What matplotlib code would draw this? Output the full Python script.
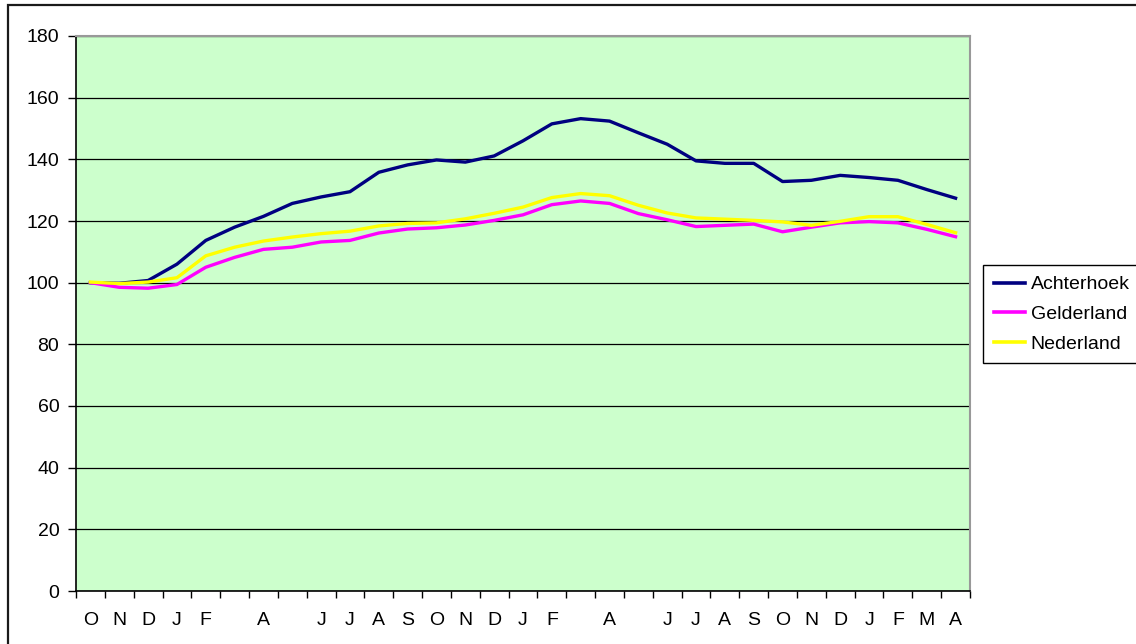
import matplotlib
matplotlib.use("Agg")
import matplotlib.pyplot as plt
from matplotlib.patches import Rectangle

months = ["O", "N", "D", "J", "F", "", "A", "", "J", "J", "A", "S", "O", "N", "D", "J",
          "F", "", "A", "", "J", "J", "A", "S", "O", "N", "D", "J", "F", "M", "A"]

achterhoek = [100.0, 99.8, 100.7, 106.0, 113.7, 118.0, 121.5, 125.7, 127.8, 129.5, 135.8,
              138.2, 139.8, 139.1, 141.1, 146.0, 151.5, 153.2, 152.4, 148.6, 144.9, 139.5,
              138.7, 138.7, 132.8, 133.2, 134.8, 134.1, 133.2, 130.2, 127.4]
gelderland = [100.0, 98.5, 98.2, 99.4, 105.0, 108.2, 110.8, 111.5, 113.2, 113.7, 116.1,
              117.4, 117.8, 118.7, 120.2, 122.0, 125.3, 126.5, 125.7, 122.4, 120.4, 118.2,
              118.6, 119.0, 116.5, 118.0, 119.4, 119.8, 119.4, 117.3, 114.9]
nederland = [100.2, 99.7, 100.2, 101.6, 108.7, 111.5, 113.5, 114.8, 115.9, 116.7, 118.4,
             119.2, 119.4, 120.7, 122.5, 124.5, 127.6, 128.9, 128.2, 125.1, 122.6, 121.0,
             120.6, 120.2, 119.7, 118.6, 119.9, 121.4, 121.4, 118.9, 116.2]
series_names = ["Achterhoek", "Gelderland", "Nederland"]
y_ticks = list(range(0, 181, 20))

W, H = 1136, 644
plt.rcParams['font.family'] = ['Liberation Sans', 'DejaVu Sans']
fig = plt.figure(figsize=(W / 100, H / 100), dpi=100)
fig.patch.set_facecolor("white")

# outer chart border (extends past right/bottom edge)
fig.patches.append(Rectangle((8 / W, -0.1), 1.2, 1 - 5 / H + 0.1, transform=fig.transFigure,
                             fill=False, edgecolor="#1a1a1a", linewidth=1.6, zorder=0))

l, r, t, b = 76, 970, 36, 591
ax = fig.add_axes([l / W, 1 - b / H, (r - l) / W, (b - t) / H])
ax.set_facecolor("#CCFFCC")

x = list(range(len(months)))
ax.plot(x, achterhoek, color="#000080", lw=2.4, label=series_names[0], zorder=3)
ax.plot(x, gelderland, color="#FF00FF", lw=2.4, label=series_names[1], zorder=4)
ax.plot(x, nederland, color="#FFFF00", lw=2.4, label=series_names[2], zorder=5)

ax.set_xlim(-0.5, len(months) - 0.5)
ax.set_ylim(0, 180)
ax.set_yticks(y_ticks)
ax.yaxis.grid(True, color="black", lw=0.9)
ax.set_axisbelow(True)

ax.set_xticks([i - 0.5 for i in range(len(months) + 1)])
ax.set_xticklabels([])
ax.set_xticks(x, minor=True)
ax.set_xticklabels(months, minor=True)
ax.tick_params(axis="x", which="minor", length=0, pad=15, labelsize=14)
ax.tick_params(axis="x", which="major", length=5, width=1, direction="out", color="black")
ax.tick_params(axis="y", length=6, width=1, direction="out", labelsize=14, pad=6)

for side in ["left", "bottom"]:
    ax.spines[side].set_color("black")
    ax.spines[side].set_linewidth(1.2)
for side in ["top", "right"]:
    ax.spines[side].set_color("#999999")
    ax.spines[side].set_linewidth(1.5)

leg = fig.legend(loc="upper left", bbox_to_anchor=(983 / W, 1 - 265 / H),
                 bbox_transform=fig.transFigure, borderaxespad=0, fancybox=False,
                 edgecolor="black", framealpha=1, fontsize=14, handlelength=1.6,
                 handletextpad=0.3, labelspacing=0.62, borderpad=0.55)
leg.get_frame().set_linewidth(1.0)
for line in leg.get_lines():
    line.set_linewidth(2.6)

fig.savefig("out.png", dpi=100)
